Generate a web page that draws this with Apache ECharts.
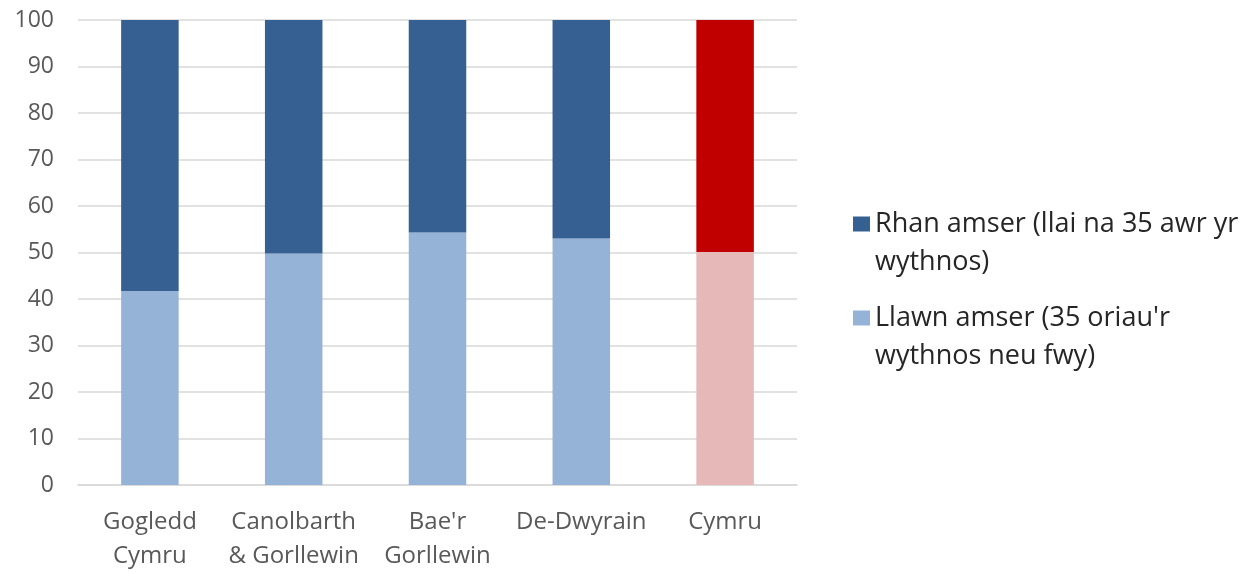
<!DOCTYPE html>
<html>
<head>
<meta charset="utf-8">
<script src="https://cdn.jsdelivr.net/npm/echarts@6/dist/echarts.min.js"></script>
<style>
  html, body { margin: 0; padding: 0; background: #fff; }
  #chart { width: 1255px; height: 574px; }
</style>
</head>
<body>
<div id="chart"></div>
<script>
const categories = ['Gogledd\nCymru', 'Canolbarth\n& Gorllewin', 'Bae\'r\nGorllewin', 'De-Dwyrain', 'Cymru']
const fullTime = [41.7, 49.8, 54.3, 53.0, 50.1]
const partTime = [58.3, 50.2, 45.7, 47.0, 49.9]
const yTicks = { min: 0, max: 100, interval: 10 }

const partName = 'Rhan amser (llai na 35 awr yr\nwythnos)'
const fullName = 'Llawn amser (35 oriau\'r\nwythnos neu fwy)'

const fontFamily = '"Open Sans", "Noto Sans", sans-serif'
const lastIdx = categories.length - 1

const chart = echarts.init(document.getElementById('chart'))

// a blank first line keeps the square level with the first line of text
const legendBase = {
  orient: 'vertical',
  left: 848,
  itemWidth: 17,
  itemHeight: 15,
  icon: 'rect',
  formatter: name => ' \n' + name,
  textStyle: {
    fontFamily: fontFamily,
    fontSize: 27,
    color: '#262626',
    lineHeight: 38,
    padding: [0, 0, 0, 0]
  }
}

chart.setOption({
  backgroundColor: '#fff',
  animation: false,
  grid: {
    left: 78,
    right: 458,
    top: 20,
    bottom: 89
  },
  legend: [
    Object.assign({}, legendBase, { data: [partName], top: 162 }),
    Object.assign({}, legendBase, { data: [fullName], top: 256 })
  ],
  xAxis: {
    type: 'category',
    data: categories,
    axisTick: { show: false },
    axisLine: { lineStyle: { color: '#d9d9d9', width: 1.5 } },
    axisLabel: {
      fontFamily: fontFamily,
      fontSize: 24,
      color: '#595959',
      lineHeight: 34,
      margin: 20,
      interval: 0
    }
  },
  yAxis: {
    type: 'value',
    min: yTicks.min,
    max: yTicks.max,
    interval: yTicks.interval,
    axisLine: { show: false },
    axisTick: { show: false },
    splitLine: { lineStyle: { color: '#d9d9d9', width: 1.5 } },
    axisLabel: {
      fontFamily: fontFamily,
      fontSize: 23,
      color: '#595959',
      margin: 24
    }
  },
  series: [
    {
      name: fullName,
      type: 'bar',
      stack: 'total',
      barWidth: '40%',
      itemStyle: { color: '#95b3d7' },
      data: fullTime.map((v, i) => i === lastIdx
        ? { value: v, itemStyle: { color: '#e6b9b8' } }
        : v)
    },
    {
      name: partName,
      type: 'bar',
      stack: 'total',
      barWidth: '40%',
      itemStyle: { color: '#366092' },
      data: partTime.map((v, i) => i === lastIdx
        ? { value: v, itemStyle: { color: '#c00000' } }
        : v)
    }
  ]
})
</script>
</body>
</html>
